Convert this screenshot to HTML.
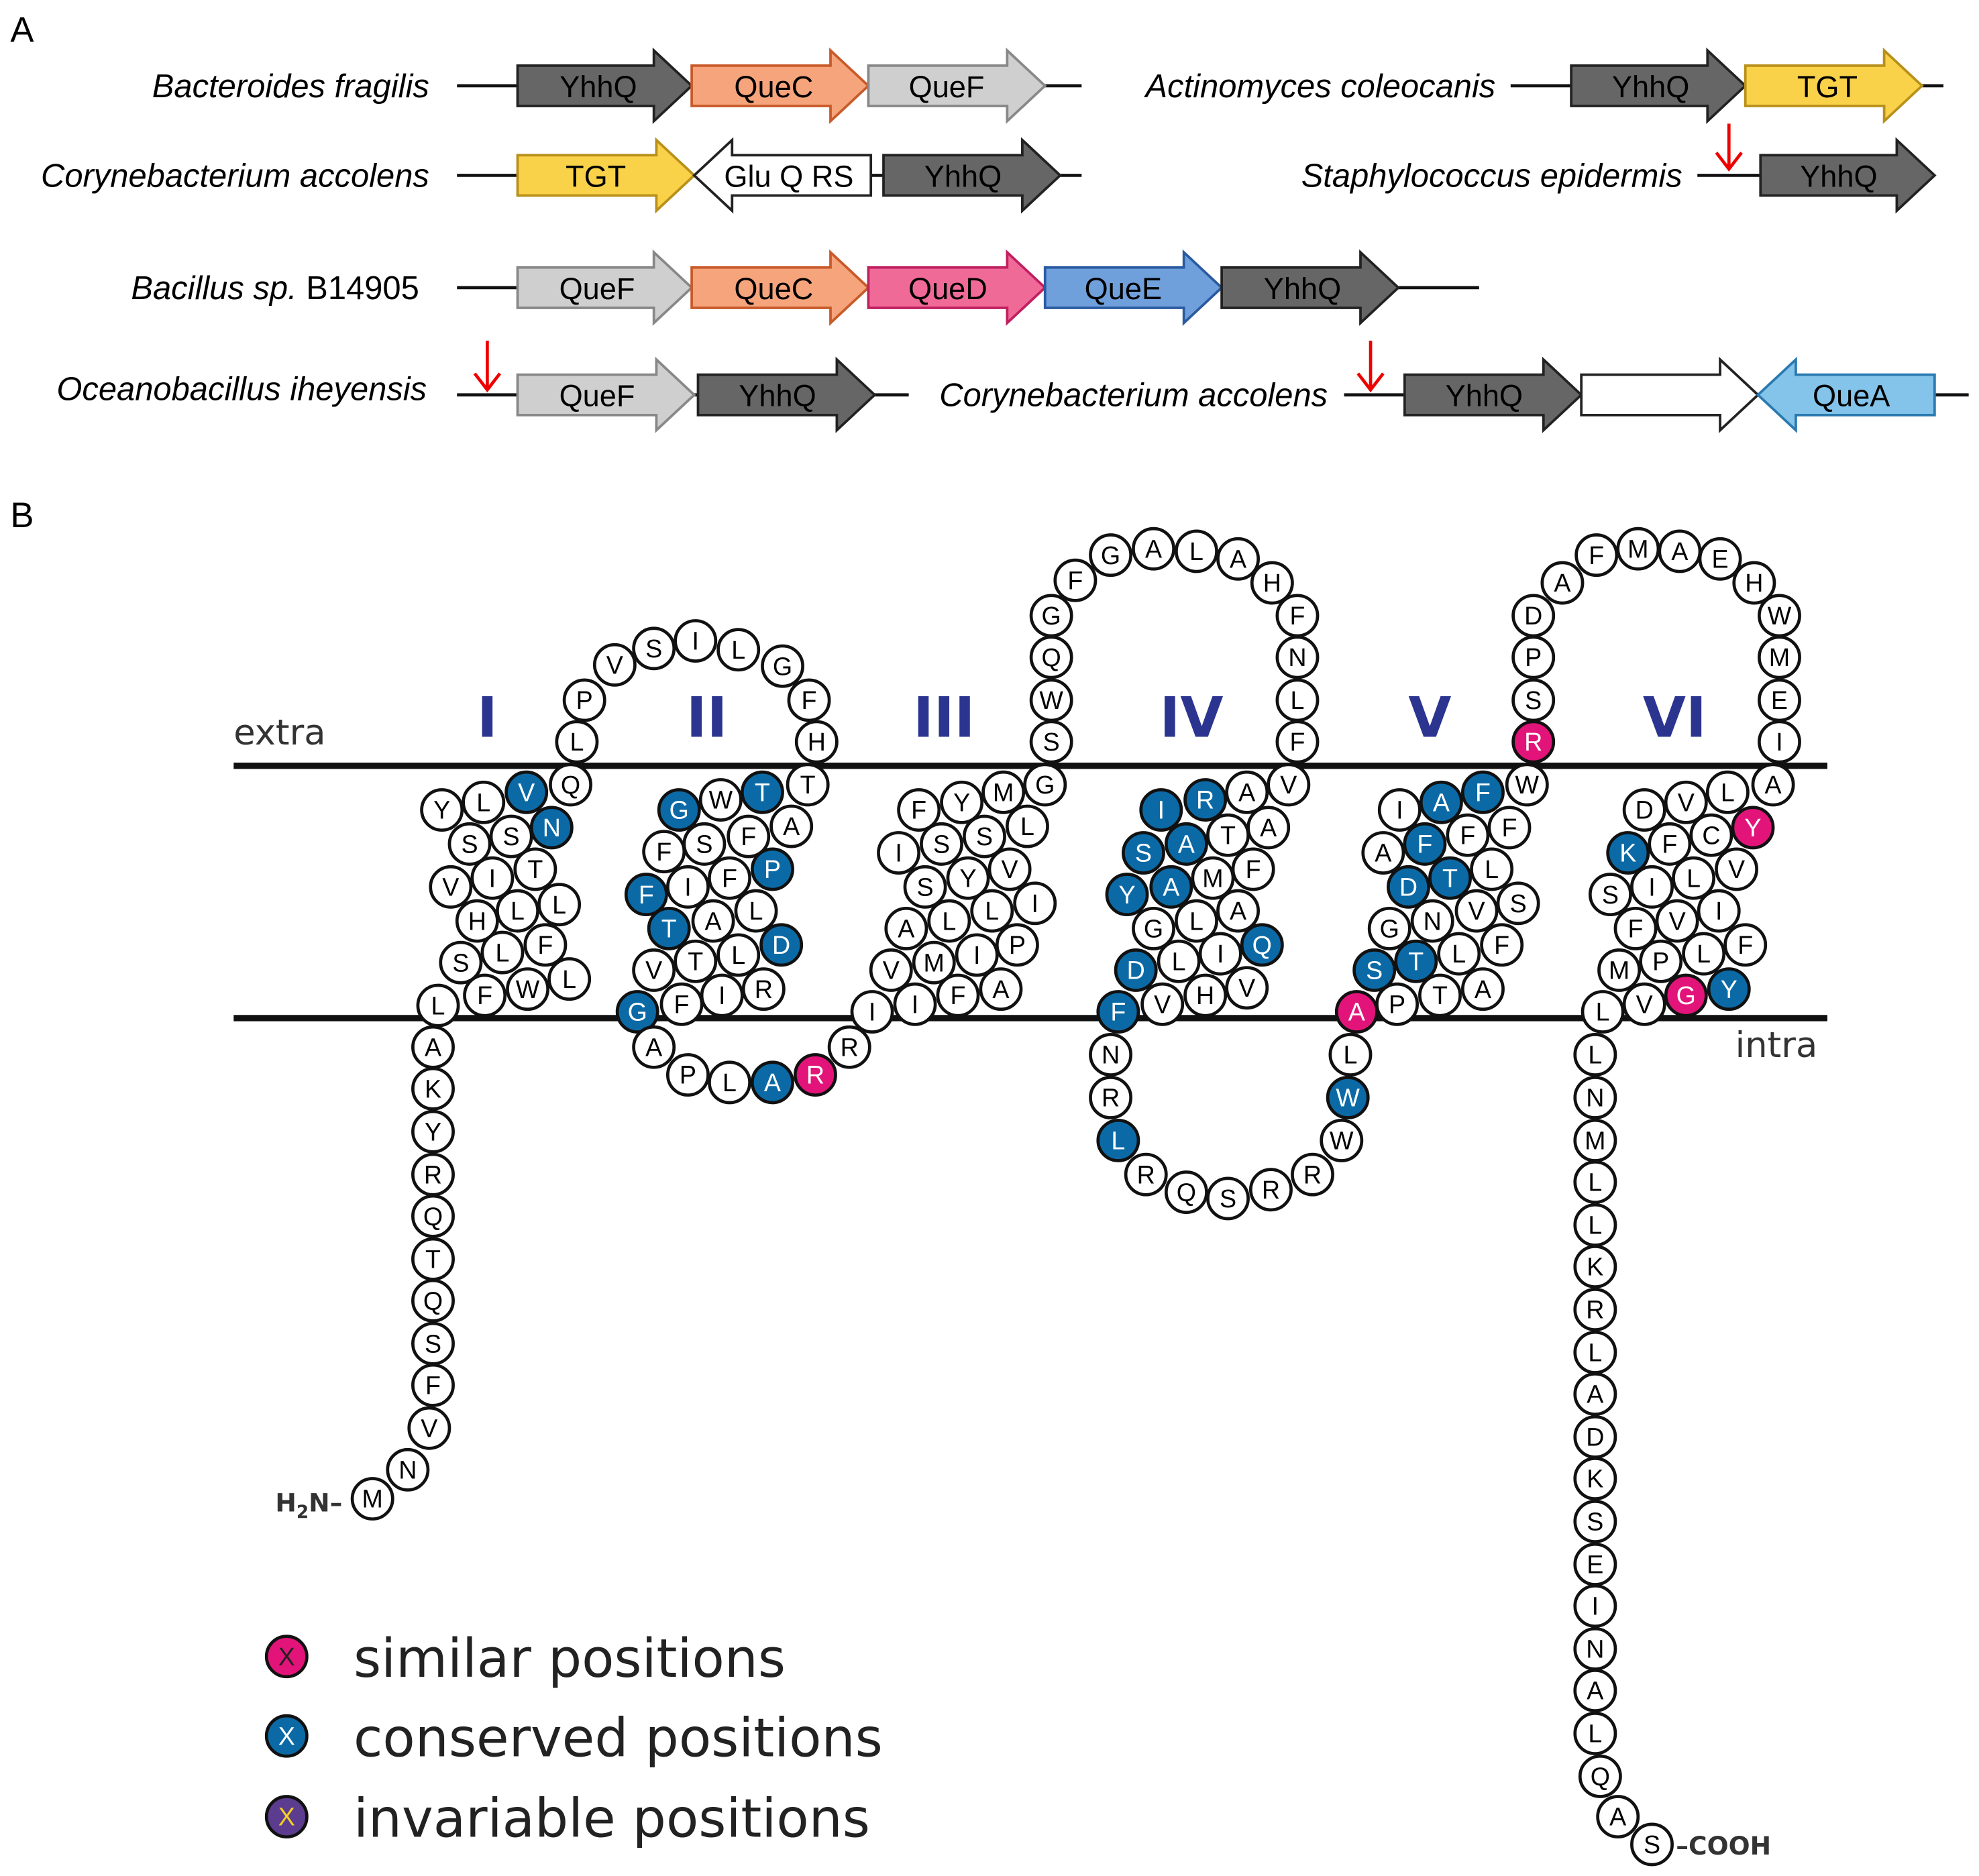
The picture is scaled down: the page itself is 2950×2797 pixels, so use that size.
<!DOCTYPE html>
<html><head><meta charset="utf-8"><style>
html,body{margin:0;padding:0;background:#fff}
svg{display:block}
.lab{font-family:"Liberation Sans",sans-serif;font-style:italic;font-size:26px;text-anchor:end}
.g{font-family:"Liberation Sans",sans-serif;font-size:24px;text-anchor:middle}
.r circle{fill:#fff;stroke:#111;stroke-width:2.5}
.r text{font-family:"Liberation Sans",sans-serif;font-size:20px;text-anchor:middle}
.r circle.b{fill:#0b6aa6}
.r circle.p{fill:#e2147a}
.r text.t{fill:#fff}
.rn{font-family:"DejaVu Sans",sans-serif;font-weight:bold;font-size:44px;fill:#2b3590;text-anchor:middle}
.leg{font-family:"DejaVu Sans",sans-serif;font-size:42px}
</style></head><body>
<svg width="2950" height="2797" viewBox="0 0 1568 1487" xmlns="http://www.w3.org/2000/svg">
<rect width="1568" height="1487" fill="#fff"/>
<text x="8" y="33" font-family="Liberation Sans,sans-serif" font-size="28">A</text>
<text x="8" y="418" font-family="Liberation Sans,sans-serif" font-size="28">B</text>
<g stroke="#111" stroke-width="2.5">
<line x1="362" y1="68" x2="857" y2="68"/><line x1="1197" y1="68" x2="1540" y2="68"/>
<line x1="362" y1="139" x2="857" y2="139"/><line x1="1345" y1="139" x2="1533" y2="139"/>
<line x1="362" y1="228" x2="1172" y2="228"/>
<line x1="362" y1="313" x2="720" y2="313"/><line x1="1065" y1="313" x2="1560" y2="313"/>
</g>
<g stroke="#222" stroke-width="2">
<path d="M410 52H518V40L548 68L518 96V84H410Z" fill="#666"/>
<path d="M548 52H658V40L688 68L658 96V84H548Z" fill="#f6a47c" stroke="#c85a2a"/>
<path d="M688 52H798V40L828 68L798 96V84H688Z" fill="#cfcfcf" stroke="#888"/>
<path d="M1245 52H1353V40L1383 68L1353 96V84H1245Z" fill="#666"/>
<path d="M1383 52H1493V40L1523 68L1493 96V84H1383Z" fill="#f9d24a" stroke="#b8901a"/>
<path d="M410 123H520V111L550 139L520 167V155H410Z" fill="#f9d24a" stroke="#b8901a"/>
<path d="M690 123H580V111L550 139L580 167V155H690Z" fill="#fff"/>
<path d="M700 123H810V111L840 139L810 167V155H700Z" fill="#666"/>
<path d="M1395 123H1503V111L1533 139L1503 167V155H1395Z" fill="#666"/>
<path d="M410 212H518V200L548 228L518 256V244H410Z" fill="#cfcfcf" stroke="#888"/>
<path d="M548 212H658V200L688 228L658 256V244H548Z" fill="#f6a47c" stroke="#c85a2a"/>
<path d="M688 212H798V200L828 228L798 256V244H688Z" fill="#f06a98" stroke="#c02060"/>
<path d="M828 212H938V200L968 228L938 256V244H828Z" fill="#70a0dc" stroke="#2a5aa0"/>
<path d="M968 212H1078V200L1108 228L1078 256V244H968Z" fill="#666"/>
<path d="M410 297H520V285L550 313L520 341V329H410Z" fill="#cfcfcf" stroke="#888"/>
<path d="M553 297H663V285L693 313L663 341V329H553Z" fill="#666"/>
<path d="M1113 297H1223V285L1253 313L1223 341V329H1113Z" fill="#666"/>
<path d="M1253 297H1363V285L1393 313L1363 341V329H1253Z" fill="#fff"/>
<path d="M1533 297H1423V285L1393 313L1423 341V329H1533Z" fill="#84c4ea" stroke="#2a7ab0"/>
</g>
<g class="g">
<text x="474" y="77">YhhQ</text><text x="613" y="77">QueC</text><text x="750" y="77">QueF</text>
<text x="1308" y="77">YhhQ</text><text x="1448" y="77">TGT</text>
<text x="472" y="148">TGT</text><text x="625" y="148">Glu Q RS</text><text x="763" y="148">YhhQ</text>
<text x="1457" y="148">YhhQ</text>
<text x="473" y="237">QueF</text><text x="613" y="237">QueC</text><text x="751" y="237">QueD</text><text x="890" y="237">QueE</text><text x="1032" y="237">YhhQ</text>
<text x="473" y="322">QueF</text><text x="616" y="322">YhhQ</text>
<text x="1176" y="322">YhhQ</text><text x="1467" y="322">QueA</text>
</g>
<g class="lab">
<text x="340" y="77">Bacteroides fragilis</text>
<text x="1185" y="77">Actinomyces coleocanis</text>
<text x="340" y="148">Corynebacterium accolens</text>
<text x="1333" y="148">Staphylococcus epidermis</text>
<text x="332" y="237">Bacillus sp. <tspan font-style="normal">B14905</tspan></text>
<text x="338" y="317">Oceanobacillus iheyensis</text>
<text x="1052" y="322">Corynebacterium accolens</text>
</g>
<g stroke="#e00" stroke-width="2.5" fill="none">
<path d="M1370 98V133M1360 121L1370 134L1380 121"/>
<path d="M386 270V308M376 296L386 309L396 296"/>
<path d="M1086 270V308M1076 296L1086 309L1096 296"/>
</g>
<line x1="185" y1="607" x2="1448" y2="607" stroke="#111" stroke-width="5"/>
<line x1="185" y1="807" x2="1448" y2="807" stroke="#111" stroke-width="5"/>
<text x="185" y="590" font-family="DejaVu Sans,sans-serif" font-size="28" fill="#333">extra</text>
<text x="1375" y="838" font-family="DejaVu Sans,sans-serif" font-size="28" fill="#333">intra</text>
<g class="rn"><text x="386" y="584">I</text><text x="560" y="584">II</text><text x="748" y="584">III</text><text x="944" y="584">IV</text><text x="1133" y="584">V</text><text x="1327" y="584">VI</text></g>
<text x="218" y="1198" font-family="DejaVu Sans,sans-serif" font-weight="bold" font-size="20" fill="#333">H<tspan font-size="14" dy="5">2</tspan><tspan dy="-5">N–</tspan></text>
<text x="1328" y="1470" font-family="DejaVu Sans,sans-serif" font-weight="bold" font-size="20" fill="#333">–COOH</text>
<g class="r">
<circle cx="295" cy="1188" r="16"/><text x="295" y="1195">M</text>
<circle cx="323" cy="1165" r="16"/><text x="323" y="1172">N</text>
<circle cx="340" cy="1132" r="16"/><text x="340" y="1139">V</text>
<circle cx="343" cy="1098" r="16"/><text x="343" y="1105">F</text>
<circle cx="343" cy="1065" r="16"/><text x="343" y="1072">S</text>
<circle cx="343" cy="1031" r="16"/><text x="343" y="1038">Q</text>
<circle cx="343" cy="998" r="16"/><text x="343" y="1005">T</text>
<circle cx="343" cy="964" r="16"/><text x="343" y="971">Q</text>
<circle cx="343" cy="931" r="16"/><text x="343" y="938">R</text>
<circle cx="343" cy="897" r="16"/><text x="343" y="904">Y</text>
<circle cx="343" cy="863" r="16"/><text x="343" y="870">K</text>
<circle cx="343" cy="830" r="16"/><text x="343" y="837">A</text>
<circle cx="347" cy="797" r="16"/><text x="347" y="804">L</text>
<circle cx="384" cy="789" r="16"/><text x="384" y="796">F</text>
<circle cx="418" cy="784" r="16"/><text x="418" y="791">W</text>
<circle cx="451" cy="776" r="16"/><text x="451" y="783">L</text>
<circle cx="365" cy="763" r="16"/><text x="365" y="770">S</text>
<circle cx="398" cy="755" r="16"/><text x="398" y="762">L</text>
<circle cx="432" cy="749" r="16"/><text x="432" y="756">F</text>
<circle cx="378" cy="730" r="16"/><text x="378" y="737">H</text>
<circle cx="410" cy="722" r="16"/><text x="410" y="729">L</text>
<circle cx="443" cy="717" r="16"/><text x="443" y="724">L</text>
<circle cx="357" cy="703" r="16"/><text x="357" y="710">V</text>
<circle cx="390" cy="696" r="16"/><text x="390" y="703">I</text>
<circle cx="424" cy="689" r="16"/><text x="424" y="696">T</text>
<circle cx="372" cy="669" r="16"/><text x="372" y="676">S</text>
<circle cx="405" cy="663" r="16"/><text x="405" y="670">S</text>
<circle class="b" cx="437" cy="656" r="16"/><text class="t" x="437" y="663">N</text>
<circle cx="350" cy="642" r="16"/><text x="350" y="649">Y</text>
<circle cx="383" cy="636" r="16"/><text x="383" y="643">L</text>
<circle class="b" cx="417" cy="628" r="16"/><text class="t" x="417" y="635">V</text>
<circle cx="452" cy="622" r="16"/><text x="452" y="629">Q</text>
<circle cx="457" cy="588" r="16"/><text x="457" y="595">L</text>
<circle cx="463" cy="555" r="16"/><text x="463" y="562">P</text>
<circle cx="487" cy="527" r="16"/><text x="487" y="534">V</text>
<circle cx="518" cy="514" r="16"/><text x="518" y="521">S</text>
<circle cx="551" cy="508" r="16"/><text x="551" y="515">I</text>
<circle cx="585" cy="515" r="16"/><text x="585" y="522">L</text>
<circle cx="620" cy="528" r="16"/><text x="620" y="535">G</text>
<circle cx="641" cy="555" r="16"/><text x="641" y="562">F</text>
<circle cx="647" cy="588" r="16"/><text x="647" y="595">H</text>
<circle cx="640" cy="622" r="16"/><text x="640" y="629">T</text>
<circle class="b" cx="538" cy="642" r="16"/><text class="t" x="538" y="649">G</text>
<circle cx="571" cy="634" r="16"/><text x="571" y="641">W</text>
<circle class="b" cx="604" cy="628" r="16"/><text class="t" x="604" y="635">T</text>
<circle cx="627" cy="655" r="16"/><text x="627" y="662">A</text>
<circle cx="593" cy="663" r="16"/><text x="593" y="670">F</text>
<circle cx="558" cy="669" r="16"/><text x="558" y="676">S</text>
<circle cx="526" cy="675" r="16"/><text x="526" y="682">F</text>
<circle class="b" cx="612" cy="689" r="16"/><text class="t" x="612" y="696">P</text>
<circle cx="578" cy="696" r="16"/><text x="578" y="703">F</text>
<circle cx="545" cy="703" r="16"/><text x="545" y="710">I</text>
<circle class="b" cx="512" cy="709" r="16"/><text class="t" x="512" y="716">F</text>
<circle cx="599" cy="722" r="16"/><text x="599" y="729">L</text>
<circle cx="565" cy="730" r="16"/><text x="565" y="737">A</text>
<circle class="b" cx="530" cy="736" r="16"/><text class="t" x="530" y="743">T</text>
<circle class="b" cx="619" cy="749" r="16"/><text class="t" x="619" y="756">D</text>
<circle cx="585" cy="757" r="16"/><text x="585" y="764">L</text>
<circle cx="551" cy="762" r="16"/><text x="551" y="769">T</text>
<circle cx="518" cy="769" r="16"/><text x="518" y="776">V</text>
<circle cx="605" cy="784" r="16"/><text x="605" y="791">R</text>
<circle cx="572" cy="789" r="16"/><text x="572" y="796">I</text>
<circle cx="540" cy="796" r="16"/><text x="540" y="803">F</text>
<circle class="b" cx="505" cy="802" r="16"/><text class="t" x="505" y="809">G</text>
<circle cx="518" cy="830" r="16"/><text x="518" y="837">A</text>
<circle cx="545" cy="852" r="16"/><text x="545" y="859">P</text>
<circle cx="578" cy="858" r="16"/><text x="578" y="865">L</text>
<circle class="b" cx="612" cy="858" r="16"/><text class="t" x="612" y="865">A</text>
<circle class="p" cx="646" cy="852" r="16"/><text class="t" x="646" y="859">R</text>
<circle cx="673" cy="830" r="16"/><text x="673" y="837">R</text>
<circle cx="691" cy="802" r="16"/><text x="691" y="809">I</text>
<circle cx="725" cy="796" r="16"/><text x="725" y="803">I</text>
<circle cx="759" cy="789" r="16"/><text x="759" y="796">F</text>
<circle cx="793" cy="784" r="16"/><text x="793" y="791">A</text>
<circle cx="706" cy="769" r="16"/><text x="706" y="776">V</text>
<circle cx="740" cy="763" r="16"/><text x="740" y="770">M</text>
<circle cx="774" cy="757" r="16"/><text x="774" y="764">I</text>
<circle cx="806" cy="749" r="16"/><text x="806" y="756">P</text>
<circle cx="718" cy="736" r="16"/><text x="718" y="743">A</text>
<circle cx="752" cy="730" r="16"/><text x="752" y="737">L</text>
<circle cx="786" cy="722" r="16"/><text x="786" y="729">L</text>
<circle cx="820" cy="716" r="16"/><text x="820" y="723">I</text>
<circle cx="733" cy="703" r="16"/><text x="733" y="710">S</text>
<circle cx="767" cy="696" r="16"/><text x="767" y="703">Y</text>
<circle cx="800" cy="689" r="16"/><text x="800" y="696">V</text>
<circle cx="712" cy="676" r="16"/><text x="712" y="683">I</text>
<circle cx="746" cy="669" r="16"/><text x="746" y="676">S</text>
<circle cx="780" cy="663" r="16"/><text x="780" y="670">S</text>
<circle cx="814" cy="655" r="16"/><text x="814" y="662">L</text>
<circle cx="728" cy="642" r="16"/><text x="728" y="649">F</text>
<circle cx="762" cy="636" r="16"/><text x="762" y="643">Y</text>
<circle cx="795" cy="628" r="16"/><text x="795" y="635">M</text>
<circle cx="828" cy="622" r="16"/><text x="828" y="629">G</text>
<circle cx="833" cy="588" r="16"/><text x="833" y="595">S</text>
<circle cx="833" cy="555" r="16"/><text x="833" y="562">W</text>
<circle cx="833" cy="521" r="16"/><text x="833" y="528">Q</text>
<circle cx="833" cy="488" r="16"/><text x="833" y="495">G</text>
<circle cx="852" cy="460" r="16"/><text x="852" y="467">F</text>
<circle cx="880" cy="440" r="16"/><text x="880" y="447">G</text>
<circle cx="914" cy="435" r="16"/><text x="914" y="442">A</text>
<circle cx="948" cy="437" r="16"/><text x="948" y="444">L</text>
<circle cx="981" cy="443" r="16"/><text x="981" y="450">A</text>
<circle cx="1008" cy="462" r="16"/><text x="1008" y="469">H</text>
<circle cx="1028" cy="488" r="16"/><text x="1028" y="495">F</text>
<circle cx="1028" cy="521" r="16"/><text x="1028" y="528">N</text>
<circle cx="1028" cy="555" r="16"/><text x="1028" y="562">L</text>
<circle cx="1028" cy="588" r="16"/><text x="1028" y="595">F</text>
<circle cx="1021" cy="622" r="16"/><text x="1021" y="629">V</text>
<circle class="b" cx="920" cy="642" r="16"/><text class="t" x="920" y="649">I</text>
<circle class="b" cx="955" cy="634" r="16"/><text class="t" x="955" y="641">R</text>
<circle cx="988" cy="628" r="16"/><text x="988" y="635">A</text>
<circle cx="1005" cy="656" r="16"/><text x="1005" y="663">A</text>
<circle cx="973" cy="662" r="16"/><text x="973" y="669">T</text>
<circle class="b" cx="940" cy="669" r="16"/><text class="t" x="940" y="676">A</text>
<circle class="b" cx="906" cy="676" r="16"/><text class="t" x="906" y="683">S</text>
<circle cx="993" cy="689" r="16"/><text x="993" y="696">F</text>
<circle cx="961" cy="696" r="16"/><text x="961" y="703">M</text>
<circle class="b" cx="928" cy="703" r="16"/><text class="t" x="928" y="710">A</text>
<circle class="b" cx="893" cy="709" r="16"/><text class="t" x="893" y="716">Y</text>
<circle cx="981" cy="722" r="16"/><text x="981" y="729">A</text>
<circle cx="948" cy="730" r="16"/><text x="948" y="737">L</text>
<circle cx="914" cy="736" r="16"/><text x="914" y="743">G</text>
<circle class="b" cx="1000" cy="749" r="16"/><text class="t" x="1000" y="756">Q</text>
<circle cx="967" cy="756" r="16"/><text x="967" y="763">I</text>
<circle cx="934" cy="762" r="16"/><text x="934" y="769">L</text>
<circle class="b" cx="900" cy="769" r="16"/><text class="t" x="900" y="776">D</text>
<circle cx="988" cy="783" r="16"/><text x="988" y="790">V</text>
<circle cx="955" cy="789" r="16"/><text x="955" y="796">H</text>
<circle cx="921" cy="796" r="16"/><text x="921" y="803">V</text>
<circle class="b" cx="886" cy="802" r="16"/><text class="t" x="886" y="809">F</text>
<circle cx="880" cy="836" r="16"/><text x="880" y="843">N</text>
<circle cx="880" cy="870" r="16"/><text x="880" y="877">R</text>
<circle class="b" cx="886" cy="904" r="16"/><text class="t" x="886" y="911">L</text>
<circle cx="908" cy="931" r="16"/><text x="908" y="938">R</text>
<circle cx="940" cy="945" r="16"/><text x="940" y="952">Q</text>
<circle cx="973" cy="950" r="16"/><text x="973" y="957">S</text>
<circle cx="1007" cy="943" r="16"/><text x="1007" y="950">R</text>
<circle cx="1040" cy="931" r="16"/><text x="1040" y="938">R</text>
<circle cx="1063" cy="904" r="16"/><text x="1063" y="911">W</text>
<circle class="b" cx="1068" cy="870" r="16"/><text class="t" x="1068" y="877">W</text>
<circle cx="1070" cy="836" r="16"/><text x="1070" y="843">L</text>
<circle class="p" cx="1075" cy="802" r="16"/><text class="t" x="1075" y="809">A</text>
<circle cx="1107" cy="796" r="16"/><text x="1107" y="803">P</text>
<circle cx="1141" cy="789" r="16"/><text x="1141" y="796">T</text>
<circle cx="1175" cy="784" r="16"/><text x="1175" y="791">A</text>
<circle class="b" cx="1089" cy="769" r="16"/><text class="t" x="1089" y="776">S</text>
<circle class="b" cx="1122" cy="762" r="16"/><text class="t" x="1122" y="769">T</text>
<circle cx="1156" cy="756" r="16"/><text x="1156" y="763">L</text>
<circle cx="1190" cy="749" r="16"/><text x="1190" y="756">F</text>
<circle cx="1101" cy="736" r="16"/><text x="1101" y="743">G</text>
<circle cx="1135" cy="730" r="16"/><text x="1135" y="737">N</text>
<circle cx="1170" cy="722" r="16"/><text x="1170" y="729">V</text>
<circle cx="1203" cy="716" r="16"/><text x="1203" y="723">S</text>
<circle class="b" cx="1116" cy="703" r="16"/><text class="t" x="1116" y="710">D</text>
<circle class="b" cx="1149" cy="696" r="16"/><text class="t" x="1149" y="703">T</text>
<circle cx="1182" cy="689" r="16"/><text x="1182" y="696">L</text>
<circle cx="1096" cy="676" r="16"/><text x="1096" y="683">A</text>
<circle class="b" cx="1129" cy="669" r="16"/><text class="t" x="1129" y="676">F</text>
<circle cx="1163" cy="662" r="16"/><text x="1163" y="669">F</text>
<circle cx="1196" cy="656" r="16"/><text x="1196" y="663">F</text>
<circle cx="1109" cy="642" r="16"/><text x="1109" y="649">I</text>
<circle class="b" cx="1142" cy="636" r="16"/><text class="t" x="1142" y="643">A</text>
<circle class="b" cx="1175" cy="628" r="16"/><text class="t" x="1175" y="635">F</text>
<circle cx="1210" cy="622" r="16"/><text x="1210" y="629">W</text>
<circle class="p" cx="1215" cy="588" r="16"/><text class="t" x="1215" y="595">R</text>
<circle cx="1215" cy="555" r="16"/><text x="1215" y="562">S</text>
<circle cx="1215" cy="521" r="16"/><text x="1215" y="528">P</text>
<circle cx="1215" cy="488" r="16"/><text x="1215" y="495">D</text>
<circle cx="1238" cy="462" r="16"/><text x="1238" y="469">A</text>
<circle cx="1265" cy="440" r="16"/><text x="1265" y="447">F</text>
<circle cx="1298" cy="435" r="16"/><text x="1298" y="442">M</text>
<circle cx="1331" cy="437" r="16"/><text x="1331" y="444">A</text>
<circle cx="1363" cy="443" r="16"/><text x="1363" y="450">E</text>
<circle cx="1390" cy="462" r="16"/><text x="1390" y="469">H</text>
<circle cx="1410" cy="488" r="16"/><text x="1410" y="495">W</text>
<circle cx="1410" cy="521" r="16"/><text x="1410" y="528">M</text>
<circle cx="1410" cy="555" r="16"/><text x="1410" y="562">E</text>
<circle cx="1410" cy="588" r="16"/><text x="1410" y="595">I</text>
<circle cx="1405" cy="622" r="16"/><text x="1405" y="629">A</text>
<circle class="p" cx="1389" cy="656" r="16"/><text class="t" x="1389" y="663">Y</text>
<circle cx="1369" cy="628" r="16"/><text x="1369" y="635">L</text>
<circle cx="1336" cy="636" r="16"/><text x="1336" y="643">V</text>
<circle cx="1303" cy="642" r="16"/><text x="1303" y="649">D</text>
<circle cx="1356" cy="662" r="16"/><text x="1356" y="669">C</text>
<circle cx="1323" cy="669" r="16"/><text x="1323" y="676">F</text>
<circle class="b" cx="1290" cy="676" r="16"/><text class="t" x="1290" y="683">K</text>
<circle cx="1376" cy="689" r="16"/><text x="1376" y="696">V</text>
<circle cx="1342" cy="696" r="16"/><text x="1342" y="703">L</text>
<circle cx="1309" cy="703" r="16"/><text x="1309" y="710">I</text>
<circle cx="1276" cy="709" r="16"/><text x="1276" y="716">S</text>
<circle cx="1362" cy="722" r="16"/><text x="1362" y="729">I</text>
<circle cx="1329" cy="730" r="16"/><text x="1329" y="737">V</text>
<circle cx="1296" cy="736" r="16"/><text x="1296" y="743">F</text>
<circle cx="1383" cy="749" r="16"/><text x="1383" y="756">F</text>
<circle cx="1350" cy="756" r="16"/><text x="1350" y="763">L</text>
<circle cx="1316" cy="762" r="16"/><text x="1316" y="769">P</text>
<circle cx="1283" cy="769" r="16"/><text x="1283" y="776">M</text>
<circle class="b" cx="1370" cy="784" r="16"/><text class="t" x="1370" y="791">Y</text>
<circle class="p" cx="1336" cy="789" r="16"/><text class="t" x="1336" y="796">G</text>
<circle cx="1303" cy="796" r="16"/><text x="1303" y="803">V</text>
<circle cx="1270" cy="802" r="16"/><text x="1270" y="809">L</text>
<circle cx="1264" cy="836" r="16"/><text x="1264" y="843">L</text>
<circle cx="1264" cy="870" r="16"/><text x="1264" y="877">N</text>
<circle cx="1264" cy="904" r="16"/><text x="1264" y="911">M</text>
<circle cx="1264" cy="937" r="16"/><text x="1264" y="944">L</text>
<circle cx="1264" cy="971" r="16"/><text x="1264" y="978">L</text>
<circle cx="1264" cy="1004" r="16"/><text x="1264" y="1011">K</text>
<circle cx="1264" cy="1038" r="16"/><text x="1264" y="1045">R</text>
<circle cx="1264" cy="1072" r="16"/><text x="1264" y="1079">L</text>
<circle cx="1264" cy="1105" r="16"/><text x="1264" y="1112">A</text>
<circle cx="1264" cy="1139" r="16"/><text x="1264" y="1146">D</text>
<circle cx="1264" cy="1172" r="16"/><text x="1264" y="1179">K</text>
<circle cx="1264" cy="1206" r="16"/><text x="1264" y="1213">S</text>
<circle cx="1264" cy="1240" r="16"/><text x="1264" y="1247">E</text>
<circle cx="1264" cy="1273" r="16"/><text x="1264" y="1280">I</text>
<circle cx="1264" cy="1307" r="16"/><text x="1264" y="1314">N</text>
<circle cx="1264" cy="1340" r="16"/><text x="1264" y="1347">A</text>
<circle cx="1264" cy="1374" r="16"/><text x="1264" y="1381">L</text>
<circle cx="1268" cy="1408" r="16"/><text x="1268" y="1415">Q</text>
<circle cx="1282" cy="1440" r="16"/><text x="1282" y="1447">A</text>
<circle cx="1309" cy="1462" r="16"/><text x="1309" y="1469">S</text>
<circle class="p" cx="227" cy="1313" r="16"/><text x="227" y="1320" fill="#222">X</text>
<circle class="b" cx="227" cy="1376" r="16"/><text class="t" x="227" y="1383">X</text>
<circle cx="227" cy="1440" r="16" style="fill:#5b3c8e"/><text x="227" y="1447" fill="#f5d020">X</text>
</g>
<g class="leg" fill="#222">
<text x="280" y="1329">similar positions</text>
<text x="280" y="1392">conserved positions</text>
<text x="280" y="1456">invariable positions</text>
</g>
</svg>
</body></html>
